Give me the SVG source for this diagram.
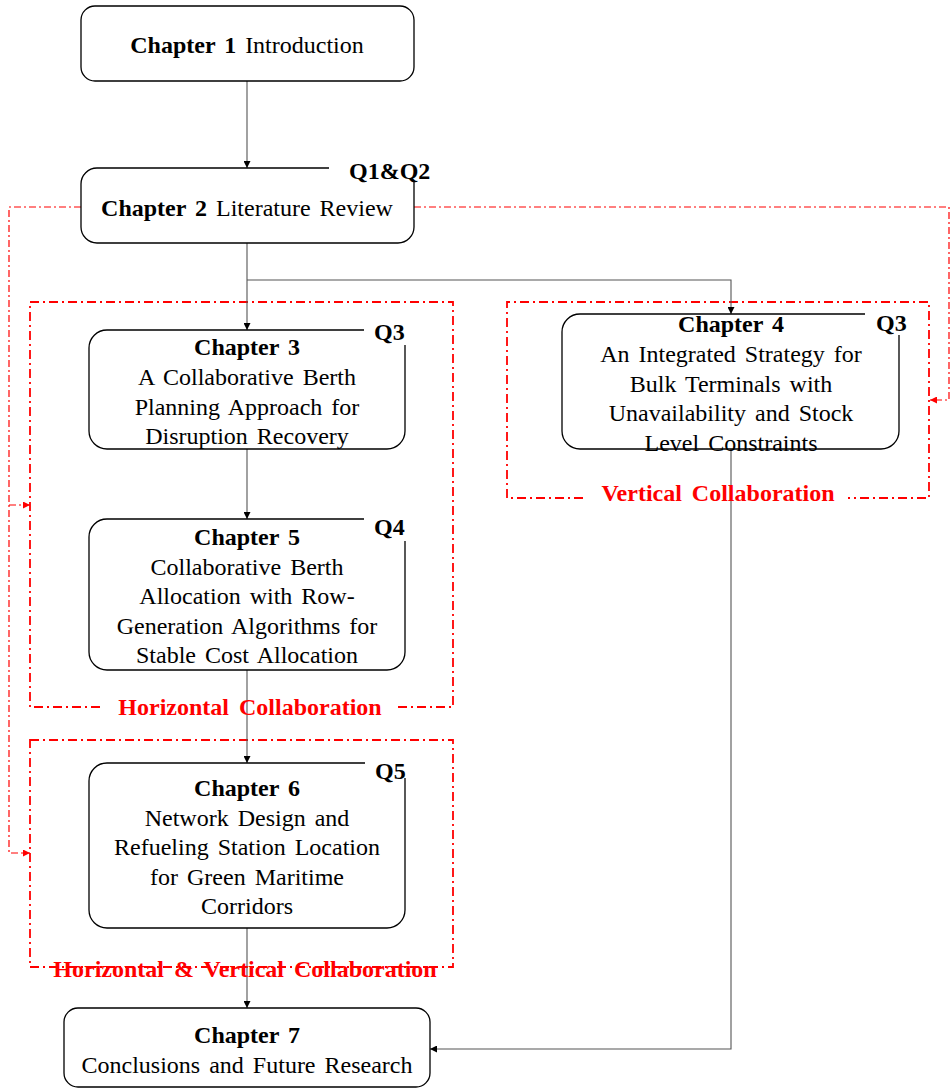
<svg xmlns="http://www.w3.org/2000/svg" width="951" height="1089" viewBox="0 0 951 1089">
<style>
.box{fill:#fff;stroke:#000;stroke-width:1.3}
.t{font-family:"Liberation Serif","Times New Roman",serif;font-size:24px;fill:#000;text-anchor:middle;word-spacing:3px}
.b{font-weight:bold}
.q{font-family:"Liberation Serif","Times New Roman",serif;font-size:24px;font-weight:bold;fill:#000}
.rl{font-family:"Liberation Serif","Times New Roman",serif;font-size:24px;font-weight:bold;fill:#ff0000;text-anchor:middle;word-spacing:4px}
.con{fill:none;stroke:#555;stroke-width:1.1}
.grp{fill:none;stroke:#ff0000;stroke-width:1.8;stroke-dasharray:9,4,2,4}
.lnk{fill:none;stroke:#ff0000;stroke-width:1.2;stroke-dasharray:7,3,2,3}
</style>
<defs>
<marker id="ah" viewBox="0 0 10 10" refX="10" refY="5" markerWidth="7" markerHeight="7" markerUnits="userSpaceOnUse" orient="auto"><path d="M0,0L10,5L0,10z" fill="#000"/></marker>
<marker id="rh" viewBox="0 0 10 10" refX="10" refY="5" markerWidth="7" markerHeight="7" markerUnits="userSpaceOnUse" orient="auto"><path d="M0,0L10,5L0,10z" fill="#ff0000"/></marker>
</defs>

<g id="groups">
<path class="grp" d="M100,707H30V302H453V707H395"/>
<path class="grp" d="M583,498H507V302H929V498H848"/>
<path class="grp" d="M30,740H453V967H30Z"/>
</g>

<g id="connectors">
<path class="con" d="M247,81V168" marker-end="url(#ah)"/>
<path class="con" d="M247,243V330" marker-end="url(#ah)"/>
<path class="con" d="M247,280H731V314" marker-end="url(#ah)"/>
<path class="con" d="M247,449V519" marker-end="url(#ah)"/>
<path class="con" d="M247,670V763" marker-end="url(#ah)"/>
<path class="con" d="M247,928V1008" marker-end="url(#ah)"/>
<path class="con" d="M731,449V1049H430" marker-end="url(#ah)"/>
<path class="lnk" d="M81,207H9V853H30" marker-end="url(#rh)"/>
<path class="lnk" d="M9,505H30" marker-end="url(#rh)"/>
<path class="lnk" d="M414,207H949V400H930" marker-end="url(#rh)"/>
</g>

<g id="ch1">
<rect class="box" x="81" y="6" width="333" height="75" rx="14"/>
<text class="t" x="247" y="53"><tspan class="b">Chapter 1</tspan>  Introduction</text>
</g>

<g id="ch2">
<path class="box" d="M329,168H97A16,16 0 0 0 81,184V227A16,16 0 0 0 97,243H398A16,16 0 0 0 414,227V182"/>
<text class="q" x="349" y="179">Q1&amp;Q2</text>
<text class="t" x="247" y="216"><tspan class="b">Chapter 2</tspan>  Literature Review</text>
</g>

<g id="ch3">
<path class="box" d="M364,330H107A18,18 0 0 0 89,348V431A18,18 0 0 0 107,449H387A18,18 0 0 0 405,431V345"/>
<text class="q" x="374" y="340">Q3</text>
<text class="t" x="247" y="355"><tspan class="b">Chapter 3</tspan><tspan x="247" dy="30">A Collaborative Berth</tspan><tspan x="247" dy="29.5">Planning Approach for</tspan><tspan x="247" dy="29.5">Disruption Recovery</tspan></text>
</g>

<g id="ch4">
<path class="box" d="M865,314H580A18,18 0 0 0 562,332V431A18,18 0 0 0 580,449H881A18,18 0 0 0 899,431V335"/>
<text class="q" x="876" y="331">Q3</text>
<text class="t" x="731" y="332"><tspan class="b">Chapter 4</tspan><tspan x="731" dy="30">An Integrated Strategy for</tspan><tspan x="731" dy="29.5">Bulk Terminals with</tspan><tspan x="731" dy="29.5">Unavailability and Stock</tspan><tspan x="731" dy="29.5">Level Constraints</tspan></text>
</g>

<g id="ch5">
<path class="box" d="M364,519H107A18,18 0 0 0 89,537V652A18,18 0 0 0 107,670H387A18,18 0 0 0 405,652V541"/>
<text class="q" x="374" y="535">Q4</text>
<text class="t" x="247" y="545"><tspan class="b">Chapter 5</tspan><tspan x="247" dy="29.5">Collaborative Berth</tspan><tspan x="247" dy="29.5">Allocation with Row-</tspan><tspan x="247" dy="29.5">Generation Algorithms for</tspan><tspan x="247" dy="29.5">Stable Cost Allocation</tspan></text>
</g>

<g id="ch6">
<path class="box" d="M365,763H107A18,18 0 0 0 89,781V910A18,18 0 0 0 107,928H387A18,18 0 0 0 405,910V778"/>
<text class="q" x="375" y="779">Q5</text>
<text class="t" x="247" y="796"><tspan class="b">Chapter 6</tspan><tspan x="247" dy="29.5">Network Design and</tspan><tspan x="247" dy="29.5">Refueling Station Location</tspan><tspan x="247" dy="29.5">for Green Maritime</tspan><tspan x="247" dy="29.5">Corridors</tspan></text>
</g>

<g id="ch7">
<rect class="box" x="64" y="1008" width="366" height="79" rx="14"/>
<text class="t" x="247" y="1043"><tspan class="b">Chapter 7</tspan><tspan x="247" dy="29.5">Conclusions and Future Research</tspan></text>
</g>

<g id="labels">
<text class="rl" x="250" y="715">Horizontal Collaboration</text>
<text class="rl" x="718" y="501">Vertical Collaboration</text>
<text class="rl" x="245" y="977">Horizontal &amp; Vertical Collaboration</text>
</g>
</svg>
